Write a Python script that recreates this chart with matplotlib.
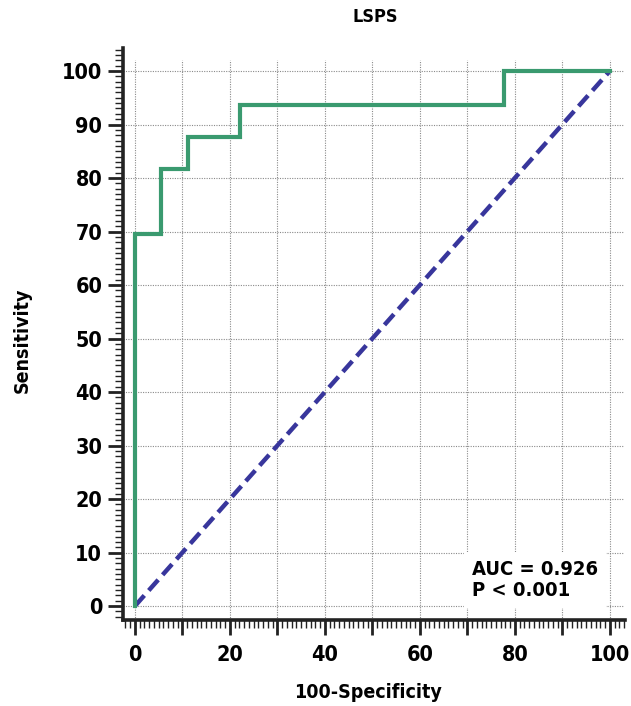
import numpy as np
import matplotlib.pyplot as plt
from matplotlib.ticker import MultipleLocator, FuncFormatter

# ROC curve values (100-Specificity, Sensitivity)
fpr = [0, 0, 5.56, 5.56, 11.11, 11.11, 22.22, 22.22, 77.78, 77.78, 100]
tpr = [0, 69.5, 69.5, 81.7, 81.7, 87.7, 87.7, 93.7, 93.7, 100, 100]
ref_x = [0, 100]
ref_y = [0, 100]
title = 'LSPS'
auc_text = 'AUC = 0.926\nP < 0.001'

plt.rcParams['font.family'] = ['DejaVu Sans']
plt.rcParams['font.stretch'] = 'condensed'
plt.rcParams['font.weight'] = 'bold'

fig = plt.figure(figsize=(6.31, 7.06), dpi=100)
ax = fig.add_axes([123/631, 86/706, 502/631, 572/706])

ax.set_xlim(-2.5, 103.2)
ax.set_ylim(-2.6, 104.3)

# dotted grid
grid_kw = dict(color='#8a8a8a', lw=0.8, linestyle=(0, (1, 1.2)), zorder=1)
ax.hlines(np.arange(0, 101, 10), -2.5, 103, **grid_kw)
ax.vlines(np.arange(0, 101, 10), -2.6, 102, **grid_kw)

ax.plot(ref_x, ref_y, color='#38369c', lw=3.2, linestyle=(0, (3.2, 1.5)), zorder=2)
ax.plot(fpr, tpr, color='#3a9a6f', lw=3, solid_joinstyle='miter', zorder=3)

for s in ['top', 'right']:
    ax.spines[s].set_visible(False)
for s in ['left', 'bottom']:
    ax.spines[s].set_linewidth(2.6)
    ax.spines[s].set_color('#222222')

ax.xaxis.set_major_locator(MultipleLocator(10))
ax.xaxis.set_minor_locator(MultipleLocator(1))
ax.xaxis.set_major_formatter(FuncFormatter(lambda v, p: f'{v:.0f}' if round(v) % 20 == 0 else ''))
ax.yaxis.set_major_locator(MultipleLocator(10))
ax.yaxis.set_minor_locator(MultipleLocator(1))
ax.tick_params(which='major', length=11, width=2, color='#222222', labelsize=15.5, pad=4)
ax.tick_params(which='minor', length=6, width=1, color='#222222')
ax.tick_params(axis='x', which='major', pad=7)

fig.text(375/631, 1 - 17/706, title, ha='center', va='center', fontsize=13, fontweight='bold')
fig.text(368/631, 1 - 692/706, '100-Specificity', ha='center', va='center', fontsize=14, fontweight='bold')
fig.text(22/631, 1 - 340/706, 'Sensitivity', ha='center', va='center', rotation=90, fontsize=14, fontweight='bold')

ax.text(0.695, 0.035, auc_text, transform=ax.transAxes, ha='left', va='bottom',
        fontsize=14.5, fontweight='bold', linespacing=1.1,
        bbox=dict(facecolor='white', edgecolor='none', pad=6), zorder=4)

fig.savefig('out.png', dpi=100)
